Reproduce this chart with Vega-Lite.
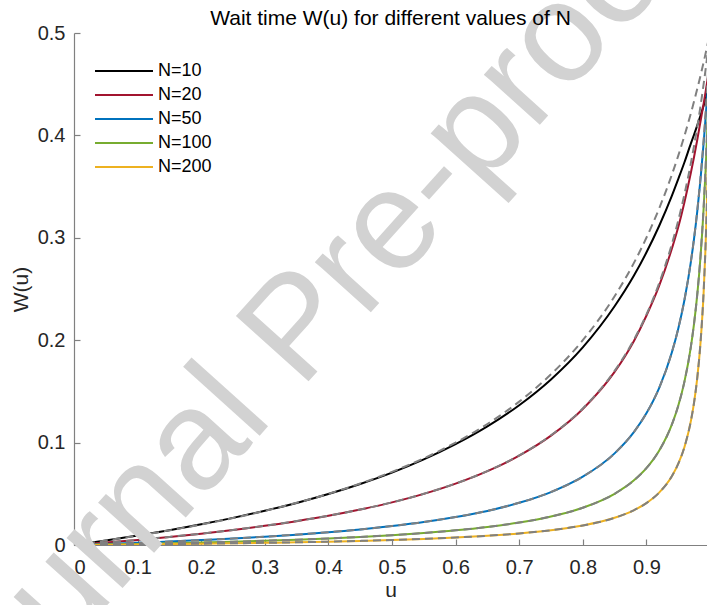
{
  "$schema": "https://vega.github.io/schema/vega-lite/v6.json",
  "autosize": {"type": "none"},
  "padding": {"left": 74, "top": 33, "right": 0, "bottom": 60},
  "width": 633,
  "height": 512,
  "config": {
    "view": {"stroke": null},
    "font": "Liberation Sans"
  },
  "title": {"text": "Wait time W(u) for different values of N", "fontSize": 21, "fontWeight": "normal", "color": "#000000", "anchor": "middle", "offset": 4, "dy": 159, "font": "Liberation Sans"},
  "data": {"values": [
    {"u":0,"N":10,"exact":0,"approx":0},{"u":0.05,"N":10,"exact":0.0044,"approx":0.00435},{"u":0.1,"N":10,"exact":0.0092,"approx":0.00909},{"u":0.15,"N":10,"exact":0.0145,"approx":0.01429},{"u":0.2,"N":10,"exact":0.0202,"approx":0.02},{"u":0.25,"N":10,"exact":0.0265,"approx":0.02632},{"u":0.3,"N":10,"exact":0.0334,"approx":0.03333},{"u":0.35,"N":10,"exact":0.0411,"approx":0.04118},{"u":0.4,"N":10,"exact":0.0498,"approx":0.05},{"u":0.45,"N":10,"exact":0.0596,"approx":0.06},{"u":0.5,"N":10,"exact":0.0707,"approx":0.07143},{"u":0.55,"N":10,"exact":0.0836,"approx":0.08462},{"u":0.6,"N":10,"exact":0.0985,"approx":0.1},{"u":0.65,"N":10,"exact":0.1158,"approx":0.11818},{"u":0.7,"N":10,"exact":0.1365,"approx":0.14},{"u":0.75,"N":10,"exact":0.1617,"approx":0.16667},{"u":0.8,"N":10,"exact":0.193,"approx":0.2},{"u":0.85,"N":10,"exact":0.2331,"approx":0.24286},{"u":0.88,"N":10,"exact":0.2626,"approx":0.275},{"u":0.9,"N":10,"exact":0.2856,"approx":0.3},{"u":0.92,"N":10,"exact":0.3115,"approx":0.32857},{"u":0.94,"N":10,"exact":0.3409,"approx":0.36154},{"u":0.95,"N":10,"exact":0.3572,"approx":0.38},{"u":0.96,"N":10,"exact":0.374,"approx":0.4},{"u":0.97,"N":10,"exact":0.3922,"approx":0.42174},{"u":0.975,"N":10,"exact":0.4008,"approx":0.43333},{"u":0.98,"N":10,"exact":0.4098,"approx":0.44545},{"u":0.985,"N":10,"exact":0.4192,"approx":0.45814},{"u":0.99,"N":10,"exact":0.429,"approx":0.47143},{"u":0.993,"N":10,"exact":0.4356,"approx":0.47971},{"u":0.995,"N":10,"exact":0.4397,"approx":0.48537},{"u":0.997,"N":10,"exact":0.444,"approx":0.49113},{"u":0.999,"N":10,"exact":0.4488,"approx":0.49701},
    {"u":0,"N":20,"exact":0,"approx":0},{"u":0.05,"N":20,"exact":0.0024,"approx":0.00238},{"u":0.1,"N":20,"exact":0.005,"approx":0.005},{"u":0.15,"N":20,"exact":0.0079,"approx":0.00789},{"u":0.2,"N":20,"exact":0.0111,"approx":0.01111},{"u":0.25,"N":20,"exact":0.0147,"approx":0.01471},{"u":0.3,"N":20,"exact":0.0187,"approx":0.01875},{"u":0.35,"N":20,"exact":0.0233,"approx":0.02333},{"u":0.4,"N":20,"exact":0.0285,"approx":0.02857},{"u":0.45,"N":20,"exact":0.0346,"approx":0.03462},{"u":0.5,"N":20,"exact":0.0416,"approx":0.04167},{"u":0.55,"N":20,"exact":0.0499,"approx":0.05},{"u":0.6,"N":20,"exact":0.0599,"approx":0.06},{"u":0.65,"N":20,"exact":0.0721,"approx":0.07222},{"u":0.7,"N":20,"exact":0.0873,"approx":0.0875},{"u":0.75,"N":20,"exact":0.1068,"approx":0.10714},{"u":0.8,"N":20,"exact":0.1328,"approx":0.13333},{"u":0.85,"N":20,"exact":0.169,"approx":0.17},{"u":0.88,"N":20,"exact":0.1988,"approx":0.2},{"u":0.9,"N":20,"exact":0.2239,"approx":0.225},{"u":0.92,"N":20,"exact":0.253,"approx":0.25556},{"u":0.94,"N":20,"exact":0.2893,"approx":0.29375},{"u":0.95,"N":20,"exact":0.3103,"approx":0.31667},{"u":0.96,"N":20,"exact":0.3353,"approx":0.34286},{"u":0.97,"N":20,"exact":0.3638,"approx":0.37308},{"u":0.975,"N":20,"exact":0.3791,"approx":0.39},{"u":0.98,"N":20,"exact":0.3957,"approx":0.40833},{"u":0.985,"N":20,"exact":0.4133,"approx":0.42826},{"u":0.99,"N":20,"exact":0.4311,"approx":0.45},{"u":0.993,"N":20,"exact":0.4422,"approx":0.46402},{"u":0.995,"N":20,"exact":0.4501,"approx":0.47381},{"u":0.997,"N":20,"exact":0.4574,"approx":0.48398},{"u":0.999,"N":20,"exact":0.4649,"approx":0.49455},
    {"u":0,"N":50,"exact":0,"approx":0},{"u":0.05,"N":50,"exact":0.001,"approx":0.00101},{"u":0.1,"N":50,"exact":0.0021,"approx":0.00213},{"u":0.15,"N":50,"exact":0.0034,"approx":0.00337},{"u":0.2,"N":50,"exact":0.0048,"approx":0.00476},{"u":0.25,"N":50,"exact":0.0063,"approx":0.00633},{"u":0.3,"N":50,"exact":0.0081,"approx":0.00811},{"u":0.35,"N":50,"exact":0.0101,"approx":0.01014},{"u":0.4,"N":50,"exact":0.0125,"approx":0.0125},{"u":0.45,"N":50,"exact":0.0152,"approx":0.01525},{"u":0.5,"N":50,"exact":0.0185,"approx":0.01852},{"u":0.55,"N":50,"exact":0.0224,"approx":0.02245},{"u":0.6,"N":50,"exact":0.0273,"approx":0.02727},{"u":0.65,"N":50,"exact":0.0333,"approx":0.03333},{"u":0.7,"N":50,"exact":0.0412,"approx":0.04118},{"u":0.75,"N":50,"exact":0.0517,"approx":0.05172},{"u":0.8,"N":50,"exact":0.0667,"approx":0.06667},{"u":0.85,"N":50,"exact":0.0895,"approx":0.08947},{"u":0.88,"N":50,"exact":0.11,"approx":0.11},{"u":0.9,"N":50,"exact":0.1286,"approx":0.12857},{"u":0.92,"N":50,"exact":0.1533,"approx":0.15333},{"u":0.94,"N":50,"exact":0.188,"approx":0.188},{"u":0.95,"N":50,"exact":0.211,"approx":0.21111},{"u":0.96,"N":50,"exact":0.2398,"approx":0.24},{"u":0.97,"N":50,"exact":0.2768,"approx":0.27714},{"u":0.975,"N":50,"exact":0.2995,"approx":0.3},{"u":0.98,"N":50,"exact":0.3258,"approx":0.32667},{"u":0.985,"N":50,"exact":0.3565,"approx":0.35818},{"u":0.99,"N":50,"exact":0.3925,"approx":0.396},{"u":0.993,"N":50,"exact":0.417,"approx":0.42255},{"u":0.995,"N":50,"exact":0.433,"approx":0.44222},{"u":0.997,"N":50,"exact":0.449,"approx":0.46372},{"u":0.999,"N":50,"exact":0.464,"approx":0.48732},
    {"u":0,"N":100,"exact":0,"approx":0},{"u":0.05,"N":100,"exact":0.00052,"approx":0.00052},{"u":0.1,"N":100,"exact":0.00109,"approx":0.00109},{"u":0.15,"N":100,"exact":0.00172,"approx":0.00172},{"u":0.2,"N":100,"exact":0.00244,"approx":0.00244},{"u":0.25,"N":100,"exact":0.00325,"approx":0.00325},{"u":0.3,"N":100,"exact":0.00417,"approx":0.00417},{"u":0.35,"N":100,"exact":0.00522,"approx":0.00522},{"u":0.4,"N":100,"exact":0.00645,"approx":0.00645},{"u":0.45,"N":100,"exact":0.00789,"approx":0.00789},{"u":0.5,"N":100,"exact":0.0096,"approx":0.00962},{"u":0.55,"N":100,"exact":0.0117,"approx":0.0117},{"u":0.6,"N":100,"exact":0.0143,"approx":0.01429},{"u":0.65,"N":100,"exact":0.0176,"approx":0.01757},{"u":0.7,"N":100,"exact":0.0219,"approx":0.02188},{"u":0.75,"N":100,"exact":0.0278,"approx":0.02778},{"u":0.8,"N":100,"exact":0.0364,"approx":0.03636},{"u":0.85,"N":100,"exact":0.05,"approx":0.05},{"u":0.88,"N":100,"exact":0.0629,"approx":0.06286},{"u":0.9,"N":100,"exact":0.075,"approx":0.075},{"u":0.92,"N":100,"exact":0.092,"approx":0.092},{"u":0.94,"N":100,"exact":0.1175,"approx":0.1175},{"u":0.95,"N":100,"exact":0.1357,"approx":0.13571},{"u":0.96,"N":100,"exact":0.16,"approx":0.16},{"u":0.97,"N":100,"exact":0.1938,"approx":0.194},{"u":0.975,"N":100,"exact":0.2165,"approx":0.21667},{"u":0.98,"N":100,"exact":0.2445,"approx":0.245},{"u":0.985,"N":100,"exact":0.2805,"approx":0.28143},{"u":0.99,"N":100,"exact":0.3285,"approx":0.33},{"u":0.993,"N":100,"exact":0.365,"approx":0.36778},{"u":0.995,"N":100,"exact":0.3935,"approx":0.398},{"u":0.997,"N":100,"exact":0.426,"approx":0.43348},{"u":0.999,"N":100,"exact":0.46,"approx":0.47571},
    {"u":0,"N":200,"exact":0,"approx":0},{"u":0.05,"N":200,"exact":0.00026,"approx":0.00026},{"u":0.1,"N":200,"exact":0.00055,"approx":0.00055},{"u":0.15,"N":200,"exact":0.00087,"approx":0.00087},{"u":0.2,"N":200,"exact":0.00123,"approx":0.00123},{"u":0.25,"N":200,"exact":0.00164,"approx":0.00164},{"u":0.3,"N":200,"exact":0.00211,"approx":0.00211},{"u":0.35,"N":200,"exact":0.00265,"approx":0.00265},{"u":0.4,"N":200,"exact":0.00328,"approx":0.00328},{"u":0.45,"N":200,"exact":0.00402,"approx":0.00402},{"u":0.5,"N":200,"exact":0.0049,"approx":0.0049},{"u":0.55,"N":200,"exact":0.00598,"approx":0.00598},{"u":0.6,"N":200,"exact":0.00732,"approx":0.00732},{"u":0.65,"N":200,"exact":0.00903,"approx":0.00903},{"u":0.7,"N":200,"exact":0.01129,"approx":0.01129},{"u":0.75,"N":200,"exact":0.01442,"approx":0.01442},{"u":0.8,"N":200,"exact":0.01905,"approx":0.01905},{"u":0.85,"N":200,"exact":0.02656,"approx":0.02656},{"u":0.88,"N":200,"exact":0.03385,"approx":0.03385},{"u":0.9,"N":200,"exact":0.0409,"approx":0.04091},{"u":0.92,"N":200,"exact":0.0511,"approx":0.05111},{"u":0.94,"N":200,"exact":0.0671,"approx":0.06714},{"u":0.95,"N":200,"exact":0.0792,"approx":0.07917},{"u":0.96,"N":200,"exact":0.096,"approx":0.096},{"u":0.97,"N":200,"exact":0.1212,"approx":0.12125},{"u":0.975,"N":200,"exact":0.1392,"approx":0.13929},{"u":0.98,"N":200,"exact":0.1632,"approx":0.16333},{"u":0.985,"N":200,"exact":0.1967,"approx":0.197},{"u":0.99,"N":200,"exact":0.2465,"approx":0.2475},{"u":0.993,"N":200,"exact":0.2905,"approx":0.29206},{"u":0.995,"N":200,"exact":0.329,"approx":0.33167},{"u":0.997,"N":200,"exact":0.379,"approx":0.38346},{"u":0.999,"N":200,"exact":0.446,"approx":0.45409}
  ]},
  "layer": [
    {
      "mark": {"type": "line", "clip": true, "strokeWidth": 2, "interpolate": "monotone"},
      "encoding": {
        "x": {"field": "u", "type": "quantitative", "scale": {"domain": [0, 0.9953], "nice": false, "zero": false},
              "axis": {"title": "u", "values": [0, 0.1, 0.2, 0.3, 0.4, 0.5, 0.6, 0.7, 0.8, 0.9], "format": "~g", "grid": false,
                       "domainColor": "#808080", "tickColor": "#808080", "domainWidth": 1.2, "tickWidth": 1.2, "tickSize": -6,
                       "labelFont": "Liberation Sans", "labelFontSize": 20, "labelColor": "#262626", "labelPadding": 18,
                       "titleFont": "Liberation Sans", "titleFontSize": 21, "titleFontWeight": "normal", "titleColor": "#262626", "titlePadding": 2}},
        "y": {"field": "exact", "type": "quantitative", "scale": {"domain": [0, 0.5], "nice": false},
              "axis": {"title": "W(u)", "values": [0, 0.1, 0.2, 0.3, 0.4, 0.5], "format": "~g", "grid": false,
                       "domainColor": "#808080", "tickColor": "#808080", "domainWidth": 1.2, "tickWidth": 1.2, "tickSize": -6,
                       "labelFont": "Liberation Sans", "labelFontSize": 20, "labelColor": "#262626", "labelPadding": 15,
                       "titleFont": "Liberation Sans", "titleFontSize": 21, "titleFontWeight": "normal", "titleColor": "#262626", "titlePadding": 6}},
        "color": {"field": "N", "type": "ordinal",
                  "scale": {"domain": [10, 20, 50, 100, 200], "range": ["#000000", "#A2142F", "#0072BD", "#77AC30", "#EDB120"]},
                  "legend": {"orient": "none", "legendX": 36, "legendY": 24, "title": null, "padding": 0, "symbolType": "M-2.23,0H2.23", "symbolSize": 676, "symbolStrokeWidth": 2, "labelFont": "Liberation Sans", "labelFontSize": 18, "labelColor": "#000000", "labelOffset": 20, "rowPadding": 1, "labelExpr": "'N=' + datum.label"}}
      }
    },
    {
      "mark": {"type": "line", "clip": true, "strokeWidth": 2, "strokeDash": [8, 5], "color": "#808080", "interpolate": "monotone"},
      "encoding": {
        "x": {"field": "u", "type": "quantitative"},
        "y": {"field": "approx", "type": "quantitative"},
        "detail": {"field": "N", "type": "ordinal"}
      }
    },
    {
      "data": {"values": [{"label": "Journal Pre-proof"}]},
      "mark": {"type": "text", "angle": -48, "fontSize": 142, "color": "#d2d2d2", "font": "Liberation Sans", "align": "center", "baseline": "middle", "clip": false},
      "encoding": {"x": {"datum": 0.352}, "y": {"datum": 0.211}, "text": {"field": "label"}}
    }
  ]
}
